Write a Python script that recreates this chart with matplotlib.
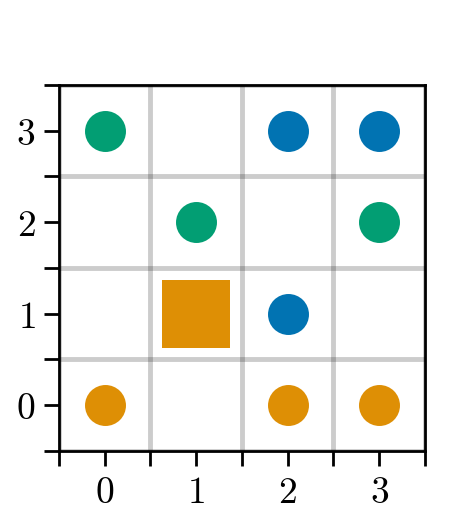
import matplotlib
matplotlib.use('Agg')
import matplotlib.pyplot as plt

plt.rcParams['mathtext.fontset'] = 'cm'
plt.rcParams['font.family'] = ['DejaVu Serif']

# data
green_x = [0, 1, 3]
green_y = [3, 2, 2]
blue_x = [2, 3, 2]
blue_y = [3, 3, 1]
orange_x = [0, 2, 3]
orange_y = [0, 0, 0]
square_x = [1]
square_y = [1]
ticks = [0, 1, 2, 3]
minor = [-0.5, 0.5, 1.5, 2.5, 3.5]

c_blue = '#0173b2'
c_orange = '#de8f05'
c_green = '#029e73'

fig = plt.figure(figsize=(4.72, 5.31), dpi=100)
ax = fig.add_axes([0.125, 0.1507, 0.7754, 0.6893])

ax.plot(green_x, green_y, 'o', color=c_green, ms=29.5, mew=0)
ax.plot(blue_x, blue_y, 'o', color=c_blue, ms=29.5, mew=0)
ax.plot(orange_x, orange_y, 'o', color=c_orange, ms=29.5, mew=0)
ax.plot(square_x, square_y, 's', color=c_orange, ms=49, mew=0)

ax.set_xlim(-0.5, 3.5)
ax.set_ylim(-0.5, 3.5)
ax.set_xticks(ticks)
ax.set_yticks(ticks)
ax.set_xticklabels(['$%d$' % t for t in ticks])
ax.set_yticklabels(['$%d$' % t for t in ticks])
ax.set_xticks(minor, minor=True)
ax.set_yticks(minor, minor=True)
ax.tick_params(which='both', length=11, width=2, direction='out')
ax.tick_params(which='major', labelsize=27, pad=6)
ax.grid(which='minor', color='black', alpha=0.2, lw=3.5)
for s in ax.spines.values():
    s.set_linewidth(2)

fig.savefig('out.png', dpi=100)
